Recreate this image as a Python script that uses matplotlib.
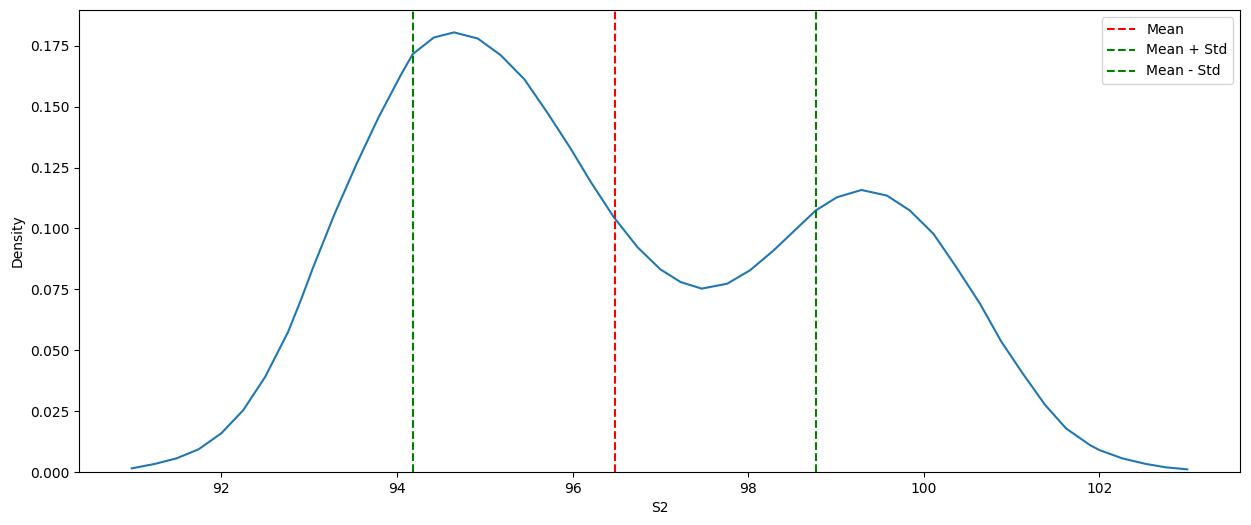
import matplotlib.pyplot as plt

# density curve of S2
s2_x = [90.98, 91.24, 91.49, 91.74, 92.0, 92.25, 92.5, 92.76, 92.91, 93.04,
        93.29, 93.54, 93.79, 94.05, 94.18, 94.42, 94.65, 94.92, 95.18, 95.45,
        95.71, 95.98, 96.20, 96.47, 96.74, 97.0, 97.23, 97.47, 97.76, 98.02,
        98.29, 98.55, 98.77, 99.01, 99.29, 99.58, 99.84, 100.11, 100.37,
        100.64, 100.88, 101.12, 101.38, 101.62, 101.89, 102.0, 102.26,
        102.53, 102.76, 103.0]
density = [0.0015, 0.0033, 0.0056, 0.0093, 0.0159, 0.0254, 0.0391, 0.0575,
           0.0710, 0.0835, 0.1060, 0.1265, 0.1456, 0.1634, 0.1716, 0.1784,
           0.1805, 0.1780, 0.1712, 0.1613, 0.1477, 0.1327, 0.1195, 0.1046,
           0.0923, 0.0832, 0.0780, 0.0753, 0.0773, 0.0828, 0.0910, 0.0999,
           0.1074, 0.1128, 0.1158, 0.1135, 0.1074, 0.0978, 0.0841, 0.0691,
           0.0537, 0.0408, 0.0276, 0.0179, 0.0111, 0.0090, 0.0056, 0.0033,
           0.0019, 0.0011]

mean = 96.48
std = 2.295

fig = plt.figure(figsize=(12.51, 5.25), dpi=100)
ax = fig.add_axes([79 / 1251, 53 / 525, 1161 / 1251, 462 / 525])

ax.plot(s2_x, density, color='#1f77b4')
ax.axvline(mean, color='r', linestyle='--', label='Mean')
ax.axvline(mean + std, color='g', linestyle='--', label='Mean + Std')
ax.axvline(mean - std, color='g', linestyle='--', label='Mean - Std')

ax.set_ylim(0, 0.1897)
ax.set_xlabel('S2')
ax.set_ylabel('Density')
ax.legend()

fig.savefig('out.png', dpi=100)
